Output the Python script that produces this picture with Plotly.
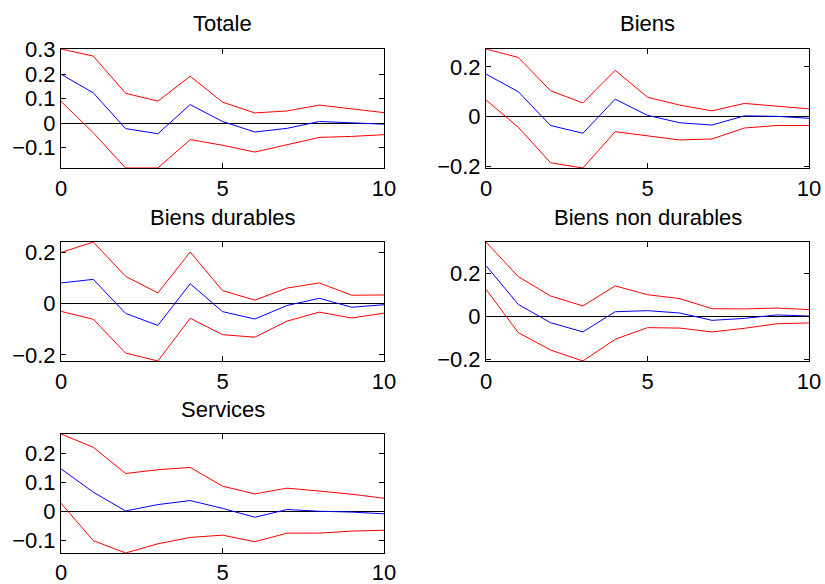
import plotly.graph_objects as go

horizon = list(range(11))

titles = ["Totale", "Biens", "Biens durables", "Biens non durables", "Services"]

totale_up = [0.303, 0.274, 0.122, 0.090, 0.192, 0.086, 0.042, 0.050, 0.074, 0.057, 0.043]
totale_mid = [0.200, 0.124, -0.022, -0.043, 0.076, 0.007, -0.036, -0.021, 0.007, 0.001, -0.004]
totale_lo = [0.089, -0.039, -0.183, -0.183, -0.067, -0.090, -0.118, -0.089, -0.058, -0.054, -0.047]

biens_up = [0.272, 0.238, 0.104, 0.055, 0.186, 0.078, 0.046, 0.023, 0.053, 0.042, 0.031]
biens_mid = [0.171, 0.100, -0.036, -0.067, 0.070, 0.005, -0.025, -0.034, 0.003, 0.001, -0.007]
biens_lo = [0.067, -0.043, -0.186, -0.207, -0.061, -0.077, -0.094, -0.090, -0.046, -0.036, -0.036]

dur_up = [0.200, 0.241, 0.107, 0.042, 0.202, 0.051, 0.014, 0.061, 0.081, 0.033, 0.034]
dur_mid = [0.081, 0.095, -0.038, -0.085, 0.078, -0.031, -0.060, -0.007, 0.021, -0.014, -0.004]
dur_lo = [-0.030, -0.061, -0.193, -0.224, -0.057, -0.121, -0.131, -0.068, -0.033, -0.056, -0.037]

nondur_up = [0.347, 0.186, 0.096, 0.050, 0.143, 0.102, 0.084, 0.037, 0.036, 0.040, 0.033]
nondur_mid = [0.237, 0.057, -0.028, -0.071, 0.023, 0.028, 0.017, -0.017, -0.008, 0.008, 0.003]
nondur_lo = [0.127, -0.074, -0.155, -0.206, -0.105, -0.051, -0.053, -0.071, -0.054, -0.033, -0.029]

serv_up = [0.268, 0.222, 0.131, 0.144, 0.152, 0.087, 0.060, 0.080, 0.070, 0.059, 0.045]
serv_mid = [0.147, 0.066, 0.001, 0.023, 0.037, 0.010, -0.021, 0.006, 0.000, -0.003, -0.009]
serv_lo = [0.028, -0.102, -0.145, -0.113, -0.091, -0.083, -0.106, -0.076, -0.076, -0.069, -0.066]

x_ticks = [0, 5, 10]
y_ticks = [
    [-0.1, 0, 0.1, 0.2, 0.3],
    [-0.2, 0, 0.2],
    [-0.2, 0, 0.2],
    [-0.2, 0, 0.2],
    [-0.1, 0, 0.1, 0.2],
]

panels = [
    (totale_up, totale_mid, totale_lo),
    (biens_up, biens_mid, biens_lo),
    (dur_up, dur_mid, dur_lo),
    (nondur_up, nondur_mid, nondur_lo),
    (serv_up, serv_mid, serv_lo),
]

W, H = 825, 584
col_px = [(61, 384), (486, 809)]
row_px = [(49, 168), (242, 361), (434, 553)]
title_y_px = [24, 24, 217, 217, 409]

FONT = "Liberation Sans, Arial, Helvetica, sans-serif"
FS = 22

fig = go.Figure()
layout = dict(
    template="none",
    width=W, height=H,
    margin=dict(l=0, r=0, t=0, b=0, autoexpand=False),
    paper_bgcolor="white", plot_bgcolor="white",
    showlegend=False,
    font=dict(family=FONT, size=FS, color="black"),
    annotations=[],
)

for i, (up, mid, lo) in enumerate(panels):
    r, c = divmod(i, 2)
    n = i + 1
    xa = "x" if n == 1 else f"x{n}"
    ya = "y" if n == 1 else f"y{n}"
    for ys, col in ((up, "#ff0000"), (mid, "#0000ff"), (lo, "#ff0000")):
        fig.add_trace(go.Scatter(x=horizon, y=ys, mode="lines",
                                 line=dict(color=col, width=1),
                                 xaxis=xa, yaxis=ya, hoverinfo="skip"))
    allv = up + mid + lo
    x0, x1 = col_px[c]
    y0, y1 = row_px[r]
    xdom = [x0 / W, x1 / W]
    ydom = [1 - y1 / H, 1 - y0 / H]
    axis_common = dict(showline=True, linecolor="black", linewidth=1, mirror="ticks",
                       ticks="inside", ticklen=5, tickcolor="black", tickwidth=1,
                       showgrid=False, automargin=False,
                       tickfont=dict(family=FONT, size=FS, color="black"))
    layout["xaxis" if n == 1 else f"xaxis{n}"] = dict(
        domain=xdom, range=[0, 10], tickvals=x_ticks, zeroline=False,
        ticklabelstandoff=1 if r < 2 else 0, anchor=ya, **axis_common)
    layout["yaxis" if n == 1 else f"yaxis{n}"] = dict(
        domain=ydom, range=[min(allv), max(allv)], tickvals=y_ticks[i],
        zeroline=True, zerolinecolor="black", zerolinewidth=1,
        anchor=xa, **axis_common)
    layout["annotations"].append(dict(
        text=titles[i], xref="paper", yref="paper",
        x=(xdom[0] + xdom[1]) / 2, y=1 - title_y_px[i] / H,
        xanchor="center", yanchor="middle", showarrow=False,
        font=dict(family=FONT, size=FS, color="black")))

fig.update_layout(**layout)
fig.write_html(
    "out.html",
    config={"displayModeBar": False, "staticPlot": True},
    post_script="document.body.style.margin='0';document.body.style.overflow='hidden';",
)
